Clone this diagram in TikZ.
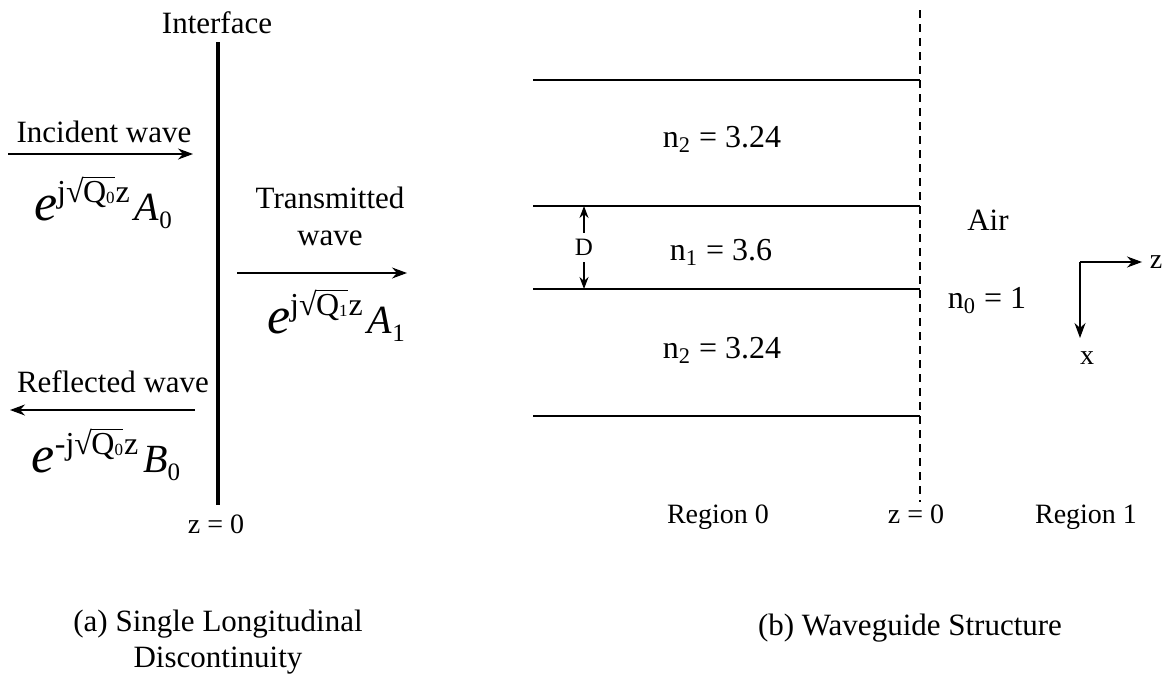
\documentclass[tikz,border=0pt]{standalone}
\usepackage{fontspec}
\setmainfont{Liberation Serif}
\usetikzlibrary{arrows.meta}
\newcommand{\myrad}[1]{\setbox0\hbox{#1}\setbox2\hbox{√}\copy2\kern-0.3pt\rlap{\rule[\dimexpr\ht2-0.6pt\relax]{\wd0}{0.6pt}}\box0}
\newcommand{\wavexp}[4]{%
{\fontsize{26}{26}\selectfont\itshape e}%
\raisebox{9pt}{\fontsize{16}{16}\selectfont #1\myrad{Q\raisebox{-0.5pt}{\fontsize{8.5}{8.5}\selectfont #2}}\kern0.5pt z}%
\kern2.5pt{\fontsize{20}{20}\selectfont\itshape #3}%
\raisebox{-4pt}{\fontsize{12.5}{12.5}\selectfont #4}}
\tikzset{
  txt/.style={inner sep=0pt, anchor=base, font=\fontsize{15.5}{18}\selectfont},
  small/.style={inner sep=0pt, anchor=base, font=\fontsize{14}{16}\selectfont},
  arr/.style={-{Stealth[length=7.5pt,width=5.5pt]}, line width=0.6pt},
  darr/.style={{Stealth[length=6pt,width=4.5pt]}-{Stealth[length=6pt,width=4.5pt]}, line width=0.6pt},
  layer/.style={line width=1pt},
  iface/.style={line width=2pt},
  zline/.style={line width=1pt, dash pattern=on 4pt off 3pt}
}
\begin{document}
\begin{tikzpicture}[x=0.5pt,y=-0.5pt]
\useasboundingbox (0,0) rectangle (1170,680);
% ---------- (a) ----------
\node[txt] (iflab) at (217,33) {Interface};
\coordinate (itop) at (218,42);
\coordinate (ibot) at (218,505);
\draw[iface] (itop) -- (ibot);
\node[txt] (inc) at (104,142) {Incident wave};
\coordinate (ia1) at (8,154);
\coordinate (ia2) at (193,154);
\draw[arr] (ia1) -- (ia2);
\node[inner sep=0pt, anchor=base] (fa) at (103,220) {\wavexp{j}{0}{A}{0}};
\node[txt] (tr1) at (330,208) {Transmitted};
\node[txt] (tr2) at (330,245) {wave};
\coordinate (ta1) at (237,273);
\coordinate (ta2) at (407,273);
\draw[arr] (ta1) -- (ta2);
\node[inner sep=0pt, anchor=base] (fb) at (336,333) {\wavexp{j}{1}{A}{1}};
\node[txt] (ref) at (113,392) {Reflected wave};
\coordinate (ra1) at (195,410);
\coordinate (ra2) at (10,410);
\draw[arr] (ra1) -- (ra2);
\node[inner sep=0pt, anchor=base] (fc) at (106,472) {\wavexp{-j}{0}{B}{0}};
\node[small] (z0a) at (216,533) {z = 0};
\node[txt, align=center, anchor=north] (capa) at (218,610) {(a) Single Longitudinal\\Discontinuity};
% ---------- (b) ----------
\coordinate (l1a) at (533,80);  \coordinate (l1b) at (920,80);
\coordinate (l2a) at (533,206); \coordinate (l2b) at (920,206);
\coordinate (l3a) at (533,289); \coordinate (l3b) at (920,289);
\coordinate (l4a) at (533,416); \coordinate (l4b) at (920,416);
\draw[layer] (l1a) -- (l1b);
\draw[layer] (l2a) -- (l2b);
\draw[layer] (l3a) -- (l3b);
\draw[layer] (l4a) -- (l4b);
\coordinate (dtop) at (920,10);
\coordinate (dbot) at (920,502);
\draw[zline] (dtop) -- (dbot);
\node[txt, font=\fontsize{16}{18}\selectfont] (n2a) at (722,147) {n\textsubscript{2} = 3.24};
\node[txt, font=\fontsize{16}{18}\selectfont] (n1) at (721,260) {n\textsubscript{1} = 3.6};
\node[txt, font=\fontsize{16}{18}\selectfont] (n2b) at (722,358) {n\textsubscript{2} = 3.24};
\coordinate (d1) at (584,206);
\coordinate (d2) at (584,289);
\draw[darr] (d1) -- node[fill=white, inner sep=3pt, font=\fontsize{12.5}{14}\selectfont] (dlab) {D} (d2);
\node[txt] (air) at (988,230) {Air};
\node[txt, font=\fontsize{16}{18}\selectfont] (n0) at (987,308) {n\textsubscript{0} = 1};
\coordinate (ax0) at (1080,262);
\coordinate (axz) at (1142,262);
\coordinate (axx) at (1080,338);
\draw[arr] (ax0) -- (axz);
\draw[arr] (ax0) -- (axx);
\node[inner sep=0pt, anchor=base, font=\fontsize{14}{16}\selectfont] (zl) at (1156,268) {z};
\node[inner sep=0pt, anchor=base, font=\fontsize{14}{16}\selectfont] (xl) at (1087,364) {x};
\node[small] (r0) at (718,523) {Region 0};
\node[small] (z0b) at (916,523) {z = 0};
\node[small] (r1) at (1086,523) {Region 1};
\node[txt] (capb) at (910,635) {(b) Waveguide Structure};
\end{tikzpicture}
\end{document}
